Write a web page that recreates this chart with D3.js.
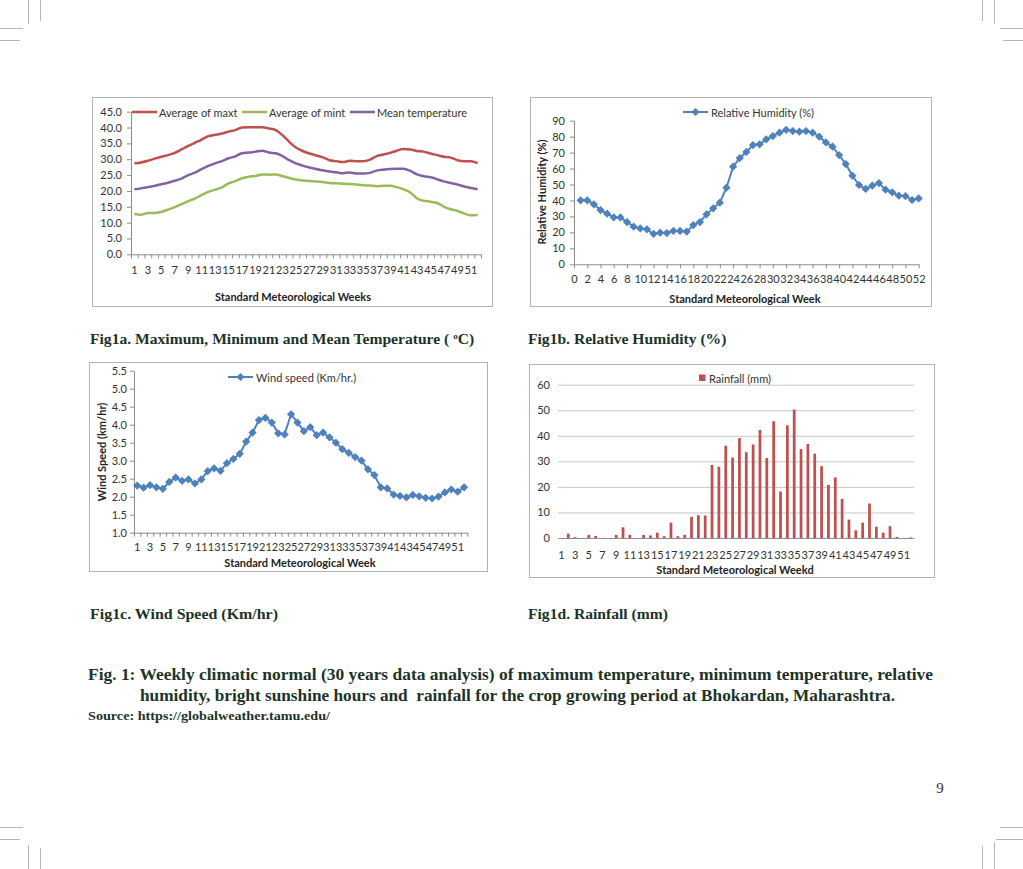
<!DOCTYPE html>
<html>
<head>
<meta charset="utf-8">
<script src="https://cdn.jsdelivr.net/npm/d3@7"></script>
<style>
    body { margin: 0; background: #fff; }
    svg { display: block; }
    .lbl { font-family: Lato, "Liberation Sans", sans-serif; font-size: 11px; fill: #333; }
    .ttl { font-family: Lato, "Liberation Sans", sans-serif; font-size: 11px; font-weight: bold; fill: #222; }
    .cap { font-family: "Liberation Serif", serif; font-weight: bold; fill: #1c3329; }
</style>
</head>
<body>
<div id="page"></div>
<script>
/* ===== DATA ===== */
const weeks = [1, 2, 3, 4, 5, 6, 7, 8, 9, 10, 11, 12, 13, 14, 15, 16, 17, 18, 19, 20, 21, 22, 23, 24, 25, 26,
    27, 28, 29, 30, 31, 32, 33, 34, 35, 36, 37, 38, 39, 40, 41, 42, 43, 44, 45, 46, 47, 48, 49, 50, 51, 52];

const maxTemp = [28.7, 29.0, 29.5, 30.2, 30.8, 31.3, 32.0, 33.1, 34.2, 35.2, 36.2, 37.3, 37.7, 38.1, 38.7, 39.2,
    40.0, 40.1, 40.1, 40.1, 39.7, 39.2, 37.6, 35.5, 33.7, 32.6, 31.8, 31.2, 30.6, 29.7, 29.4, 29.1, 29.5, 29.4,
    29.4, 29.9, 31.0, 31.5, 32.0, 32.7, 33.2, 33.1, 32.6, 32.4, 31.8, 31.3, 30.8, 30.5, 29.7, 29.4, 29.4, 28.8];
const minTemp = [12.7, 12.5, 13.0, 13.0, 13.4, 14.1, 14.9, 15.8, 16.8, 17.6, 18.7, 19.7, 20.4, 21.1, 22.4, 23.1,
    24.0, 24.5, 24.7, 25.2, 25.1, 25.2, 24.7, 24.1, 23.6, 23.3, 23.1, 23.0, 22.8, 22.5, 22.4, 22.3, 22.2, 22.0,
    21.8, 21.7, 21.5, 21.6, 21.6, 21.2, 20.5, 19.5, 17.6, 16.9, 16.6, 16.2, 15.0, 14.2, 13.7, 12.9, 12.3, 12.4];
const meanTemp = [20.5, 20.8, 21.2, 21.6, 22.1, 22.6, 23.2, 23.9, 25.0, 25.8, 26.9, 27.9, 28.7, 29.4, 30.3, 30.9,
    31.9, 32.1, 32.4, 32.7, 32.1, 31.9, 31.0, 29.7, 28.7, 28.0, 27.4, 26.9, 26.5, 26.1, 25.9, 25.6, 25.8, 25.5,
    25.5, 25.7, 26.4, 26.7, 26.9, 27.0, 27.0, 26.3, 25.2, 24.6, 24.3, 23.7, 23.0, 22.5, 22.0, 21.4, 20.9, 20.5];

const humidity = [40.1, 40.1, 37.6, 34.0, 31.7, 29.4, 29.4, 26.5, 23.6, 22.5, 21.9, 19.0, 19.8, 19.6, 20.9, 20.9,
    20.5, 24.6, 26.5, 31.3, 35.1, 38.6, 48.0, 61.2, 66.6, 70.4, 74.7, 75.2, 78.3, 80.4, 82.5, 84.3, 83.5, 83.1,
    83.5, 82.5, 80.0, 76.4, 73.7, 68.5, 62.8, 55.5, 49.7, 47.2, 49.3, 50.9, 46.8, 45.1, 43.0, 42.8, 40.3, 41.3];

const windSpeed = [2.31, 2.25, 2.32, 2.26, 2.22, 2.41, 2.53, 2.44, 2.48, 2.37, 2.48, 2.71, 2.79, 2.72, 2.93, 3.05,
    3.19, 3.53, 3.78, 4.13, 4.19, 4.06, 3.76, 3.73, 4.29, 4.06, 3.82, 3.93, 3.71, 3.78, 3.65, 3.50, 3.32, 3.22,
    3.10, 3.00, 2.76, 2.60, 2.26, 2.23, 2.06, 2.02, 1.98, 2.05, 2.01, 1.97, 1.95, 2.00, 2.12, 2.20, 2.14, 2.26];

const rainfall = [0, 1.7, 0.3, 0, 1.2, 0.8, 0, 0, 1.2, 4.2, 1.2, 0, 1.2, 1.0, 2.1, 0.7, 6.0, 0.7, 1.2, 8.3,
    8.9, 8.8, 28.6, 27.9, 36.1, 31.5, 39.1, 33.6, 36.6, 42.3, 31.3, 45.7, 18.2, 44.1, 50.3, 34.8, 36.8, 33.0,
    28.1, 20.8, 23.7, 15.3, 7.2, 3.0, 6.0, 13.5, 4.4, 2.1, 4.6, 0.4, 0, 0.2];

const tempTicks = [0, 5, 10, 15, 20, 25, 30, 35, 40, 45];
const rhTicks = [0, 10, 20, 30, 40, 50, 60, 70, 80, 90];
const rhWeekTicks = [0, 2, 4, 6, 8, 10, 12, 14, 16, 18, 20, 22, 24, 26, 28, 30, 32, 34, 36, 38, 40, 42, 44, 46, 48, 50, 52];
const windTicks = [1.0, 1.5, 2.0, 2.5, 3.0, 3.5, 4.0, 4.5, 5.0, 5.5];
const rainTicks = [0, 10, 20, 30, 40, 50, 60];
const oddWeeks = weeks.filter(w => w % 2 === 1);

const tempSeries = [
    { name: "Average of maxt", values: maxTemp, color: "#c0504d" },
    { name: "Average of mint", values: minTemp, color: "#9bbb59" },
    { name: "Mean temperature", values: meanTemp, color: "#8064a2" }
];

const AXIS = "#8c8c8c";
const BLUE = "#4f81bd";

/* ===== SVG ===== */
const svg = d3.select("#page")
    .append("svg")
    .attr("width", 1023)
    .attr("height", 869);

svg.append("rect").attr("width", 1023).attr("height", 869).attr("fill", "#fff");

/* ===== CROP MARKS ===== */
const marks = svg.append("g").attr("stroke", "#b5b5b5").attr("stroke-width", 1);
[[28.5, 0, 28.5, 24], [40.5, 0, 40.5, 21], [0, 28.5, 23, 28.5], [0, 40.5, 20, 40.5],
 [994.5, 0, 994.5, 24], [982.5, 0, 982.5, 21], [1000, 28.5, 1023, 28.5], [1003, 40.5, 1023, 40.5],
 [28.5, 845, 28.5, 869], [40.5, 848, 40.5, 869], [0, 827.5, 23, 827.5], [0, 839.5, 20, 839.5],
 [994.5, 842, 994.5, 869], [982.5, 846, 982.5, 869], [1000, 827.5, 1023, 827.5], [996, 839.5, 1023, 839.5]]
    .forEach(m => marks.append("line").attr("x1", m[0]).attr("y1", m[1]).attr("x2", m[2]).attr("y2", m[3]));

/* ===== HELPERS ===== */
function frame(x0, y0, x1, y1) {
    svg.append("rect")
        .attr("x", x0 + 0.5).attr("y", y0 + 0.5)
        .attr("width", x1 - x0).attr("height", y1 - y0)
        .attr("fill", "none").attr("stroke", "#b3b3b3");
}

function styleAxis(g) {
    g.attr("font-family", null).attr("font-size", null);
    g.select(".domain").attr("stroke", AXIS);
    g.selectAll(".tick line").attr("stroke", AXIS);
    g.selectAll(".tick text").attr("class", "lbl");
}

function label(x, y, text, cls, anchor) {
    return svg.append("text")
        .attr("class", cls)
        .attr("x", x).attr("y", y)
        .attr("text-anchor", anchor || "start")
        .attr("dominant-baseline", "central")
        .text(text);
}

function rotLabel(x, y, text) {
    svg.append("text")
        .attr("class", "ttl")
        .attr("transform", `translate(${x},${y}) rotate(-90)`)
        .attr("text-anchor", "middle")
        .attr("dominant-baseline", "central")
        .text(text);
}

// Excel-style diamond: a square turned 45 degrees
const diamond = d3.symbol().type(d3.symbolSquare).size(34);

/* ===== FIG 1a: TEMPERATURE ===== */
frame(92, 97, 492, 306);

const xA = d3.scaleBand().domain(weeks).range([131, 481]);
const xAEdge = d3.scaleLinear().domain([0, 52]).range([131, 481]);
const yA = d3.scaleLinear().domain([0, 45]).range([254.3, 111.7]);

svg.append("g").attr("transform", "translate(0,254.3)")
    .call(d3.axisBottom(xAEdge).tickValues(d3.range(0, 53)).tickFormat("").tickSize(4).tickSizeOuter(0))
    .call(styleAxis);
svg.append("g").attr("transform", "translate(0,254.3)")
    .call(d3.axisBottom(xA).tickValues(oddWeeks).tickSize(0).tickPadding(12))
    .call(styleAxis)
    .call(g => g.select(".domain").remove());
svg.append("g").attr("transform", "translate(131,0)")
    .call(d3.axisLeft(yA).tickValues(tempTicks).tickFormat(d3.format(".1f")).tickSize(4).tickPadding(5).tickSizeOuter(0))
    .call(styleAxis);

const lineA = d3.line()
    .x((d, i) => xA(weeks[i]) + xA.bandwidth() / 2)
    .y(d => yA(d))
    .curve(d3.curveMonotoneX);

tempSeries.forEach(s => {
    svg.append("path")
        .datum(s.values)
        .attr("fill", "none")
        .attr("stroke", s.color)
        .attr("stroke-width", 2.5)
        .attr("d", lineA);
});

[132, 242, 350].forEach((lx, i) => {
    svg.append("line").attr("x1", lx).attr("x2", lx + 25).attr("y1", 112).attr("y2", 112)
        .attr("stroke", tempSeries[i].color).attr("stroke-width", 2.5);
    label(lx + 27, 112, tempSeries[i].name, "lbl");
});

label(293, 296, "Standard Meteorological Weeks", "ttl", "middle");

/* ===== FIG 1b: RELATIVE HUMIDITY ===== */
frame(530, 97, 931, 306);

const xB = d3.scaleLinear().domain([0, 52]).range([574, 918.7]);
const yB = d3.scaleLinear().domain([0, 90]).range([264.3, 120.7]);

svg.append("g").attr("transform", "translate(0,264.3)")
    .call(d3.axisBottom(xB).tickValues(rhWeekTicks).tickSize(4).tickPadding(7).tickSizeOuter(0))
    .call(styleAxis);
svg.append("g").attr("transform", "translate(574,0)")
    .call(d3.axisLeft(yB).tickValues(rhTicks).tickSize(4).tickPadding(5).tickSizeOuter(0))
    .call(styleAxis);

const lineB = d3.line()
    .x((d, i) => xB(weeks[i]))
    .y(d => yB(d));

svg.append("path")
    .datum(humidity)
    .attr("fill", "none")
    .attr("stroke", BLUE)
    .attr("stroke-width", 2)
    .attr("d", lineB);

svg.append("g").selectAll("path")
    .data(humidity)
    .join("path")
    .attr("d", diamond)
    .attr("fill", BLUE)
    .attr("transform", (d, i) => `translate(${xB(weeks[i])},${yB(d)}) rotate(45)`);

svg.append("line").attr("x1", 683).attr("x2", 708).attr("y1", 112).attr("y2", 112)
    .attr("stroke", BLUE).attr("stroke-width", 2);
svg.append("path").attr("d", diamond).attr("fill", BLUE).attr("transform", "translate(695.5,112) rotate(45)");
label(711, 112, "Relative Humidity (%)", "lbl");

rotLabel(541, 192, "Relative Humidity (%)");
label(745, 298, "Standard Meteorological Week", "ttl", "middle");

/* ===== FIG 1c: WIND SPEED ===== */
frame(89, 362, 487, 571);

const xC = d3.scaleBand().domain(weeks).range([134, 467.3]);
const xCEdge = d3.scaleLinear().domain([0, 52]).range([134, 467.3]);
const yC = d3.scaleLinear().domain([1, 5.5]).range([532.7, 370.7]);

svg.append("g").attr("transform", "translate(0,532.7)")
    .call(d3.axisBottom(xCEdge).tickValues(d3.range(0, 53)).tickFormat("").tickSize(4).tickSizeOuter(0))
    .call(styleAxis);
svg.append("g").attr("transform", "translate(0,532.7)")
    .call(d3.axisBottom(xC).tickValues(oddWeeks).tickSize(0).tickPadding(11))
    .call(styleAxis)
    .call(g => g.select(".domain").remove());
svg.append("g").attr("transform", "translate(134,0)")
    .call(d3.axisLeft(yC).tickValues(windTicks).tickFormat(d3.format(".1f")).tickSize(4).tickPadding(3).tickSizeOuter(0))
    .call(styleAxis);

const lineC = d3.line()
    .x((d, i) => xC(weeks[i]) + xC.bandwidth() / 2)
    .y(d => yC(d));

svg.append("path")
    .datum(windSpeed)
    .attr("fill", "none")
    .attr("stroke", BLUE)
    .attr("stroke-width", 2)
    .attr("d", lineC);

svg.append("g").selectAll("path")
    .data(windSpeed)
    .join("path")
    .attr("d", diamond)
    .attr("fill", BLUE)
    .attr("transform", (d, i) => `translate(${xC(weeks[i]) + xC.bandwidth() / 2},${yC(d)}) rotate(45)`);

svg.append("line").attr("x1", 228).attr("x2", 253).attr("y1", 377).attr("y2", 377)
    .attr("stroke", BLUE).attr("stroke-width", 2);
svg.append("path").attr("d", diamond).attr("fill", BLUE).attr("transform", "translate(240.5,377) rotate(45)");
label(256, 377, "Wind speed (Km/hr.)", "lbl");

rotLabel(101, 452, "Wind Speed (km/hr)");
label(300, 562, "Standard Meteorological Week", "ttl", "middle");

/* ===== FIG 1d: RAINFALL ===== */
frame(529, 364, 934, 577);

const xD = d3.scaleBand().domain(weeks).range([558, 914]).paddingInner(0.6).paddingOuter(0.3);
const yD = d3.scaleLinear().domain([0, 60]).range([538, 384.7]);

svg.append("g").attr("transform", "translate(558,0)")
    .call(d3.axisLeft(yD).tickValues(rainTicks).tickSize(-356).tickPadding(8).tickSizeOuter(0))
    .call(styleAxis)
    .call(g => g.select(".domain").remove())
    .call(g => g.selectAll(".tick line").attr("stroke", "#c8c8c8"));

svg.append("g").selectAll("rect")
    .data(rainfall)
    .join("rect")
    .attr("x", (d, i) => xD(weeks[i]))
    .attr("y", d => yD(d))
    .attr("width", xD.bandwidth())
    .attr("height", d => yD(0) - yD(d))
    .attr("fill", "#c0504d");

svg.append("g").attr("transform", "translate(0,538)")
    .call(d3.axisBottom(xD).tickValues(oddWeeks).tickSize(0).tickPadding(13).tickSizeOuter(0))
    .call(styleAxis);

svg.append("rect").attr("x", 699).attr("y", 374.5).attr("width", 6.5).attr("height", 6.5).attr("fill", "#c0504d");
label(709, 378, "Rainfall (mm)", "lbl");
label(735, 569, "Standard Meteorological Weekd", "ttl", "middle");

/* ===== CAPTIONS ===== */
const capA = svg.append("text").attr("class", "cap").attr("x", 90).attr("y", 344).attr("font-size", 15.6)
    .text("Fig1a. Maximum, Minimum and Mean Temperature ( ");
capA.append("tspan").attr("font-size", 9).attr("dy", -5).text("o");
capA.append("tspan").attr("dy", 5).text("C)");

svg.append("text").attr("class", "cap").attr("x", 528).attr("y", 344).attr("font-size", 15.6)
    .text("Fig1b. Relative Humidity (%)");
svg.append("text").attr("class", "cap").attr("x", 90).attr("y", 619).attr("font-size", 15.6)
    .attr("textLength", 188).attr("lengthAdjust", "spacingAndGlyphs")
    .text("Fig1c. Wind Speed (Km/hr)");
svg.append("text").attr("class", "cap").attr("x", 528).attr("y", 619).attr("font-size", 15.6)
    .attr("textLength", 140).attr("lengthAdjust", "spacingAndGlyphs")
    .text("Fig1d. Rainfall (mm)");

svg.append("text").attr("class", "cap").attr("x", 88).attr("y", 680).attr("font-size", 16)
    .attr("textLength", 845).attr("lengthAdjust", "spacingAndGlyphs")
    .text("Fig. 1: Weekly climatic normal (30 years data analysis) of maximum temperature, minimum temperature, relative");
svg.append("text").attr("class", "cap").attr("x", 140).attr("y", 701).attr("font-size", 16)
    .attr("textLength", 755).attr("lengthAdjust", "spacingAndGlyphs")
    .attr("xml:space", "preserve")
    .text("humidity, bright sunshine hours and  rainfall for the crop growing period at Bhokardan, Maharashtra.");
svg.append("text").attr("class", "cap").attr("x", 88).attr("y", 720).attr("font-size", 12.5)
    .attr("textLength", 242).attr("lengthAdjust", "spacingAndGlyphs")
    .text("Source: https://globalweather.tamu.edu/");

svg.append("text").attr("x", 940).attr("y", 793).attr("text-anchor", "middle")
    .attr("font-family", "Liberation Serif, serif").attr("font-size", 15).attr("fill", "#333")
    .text("9");
</script>
</body>
</html>
